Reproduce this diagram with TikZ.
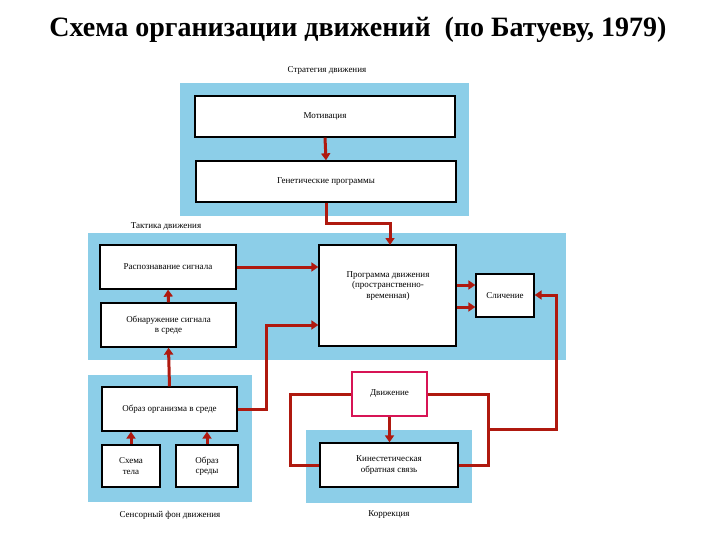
\documentclass[tikz,border=0pt]{standalone}
\usepackage{fontspec}
\setmainfont{Liberation Serif}
\usetikzlibrary{arrows.meta}
\definecolor{pan}{RGB}{140,206,232}
\definecolor{ln}{RGB}{175,25,15}
\definecolor{pk}{RGB}{215,20,85}
\tikzset{
 panel/.style={fill=pan,draw=none},
 bx/.style={draw=black,line width=1.3pt,fill=white,align=center,inner sep=0pt},
 lab/.style={font=\fontsize{9}{10.5}\selectfont},
 con/.style={draw=ln,line width=3pt},
 arr/.style={con,-{Triangle[length=7pt,width=9pt]}},
}
\newcommand{\bxat}[6]{\node[bx,#6,minimum width=#3pt-#1pt,minimum height=#4pt-#2pt] (#5) at ({(#1+#3)/2},{(#2+#4)/2}) {};}
\begin{document}
\begin{tikzpicture}[x=1pt,y=-1pt]
\useasboundingbox[fill=white] (0,0) rectangle (720,540);
\node[font=\bfseries\fontsize{28}{32}\selectfont] (title) at (358,30) {Схема организации движений\ \ (по Батуеву, 1979)};
% panels
\fill[panel] (180,83) rectangle (469,216);
\fill[panel] (88,233) rectangle (566,360);
\fill[panel] (88,375) rectangle (252,502);
\fill[panel] (306,430) rectangle (472,503);
\node[lab] (l1) at (327,70) {Стратегия движения};
\node[lab] (l2) at (166,226) {Тактика движения};
\node[lab] (l3) at (170,515) {Сенсорный фон движения};
\node[lab] (l4) at (389,515) {Коррекция};
% boxes
\bxat{195}{96}{455}{137}{mot}{}
\node[lab] at (mot) {Мотивация};
\bxat{196}{161}{456}{202}{gen}{}
\node[lab] at (gen) {Генетические программы};
\bxat{100}{245}{236}{289}{rasp}{}
\node[lab] at (rasp) {Распознавание сигнала};
\bxat{319}{245}{456}{346}{prog}{}
\node[lab,align=center] at (388,286) {Программа движения\\(пространственно-\\временная)};
\bxat{476}{274}{534}{317}{sl}{}
\node[lab] at (sl) {Сличение};
\bxat{101}{303}{236}{347}{obn}{}
\node[lab,align=center] at (obn) {Обнаружение сигнала\\в среде};
\bxat{102}{387}{237}{431}{obr}{}
\node[lab] at (obr) {Образ организма в среде};
\bxat{102}{445}{160}{487}{sch}{}
\node[lab,align=center] at (sch) {Схема\\тела};
\bxat{176}{445}{238}{487}{sred}{}
\node[lab,align=center] at (sred) {Образ\\среды};
\bxat{352}{372}{427}{416}{dv}{draw=pk,line width=2.5pt}
\node[lab] at (dv) {Движение};
\bxat{320}{443}{458}{487}{kin}{}
\node[lab,align=center] at (kin) {Кинестетическая\\обратная связь};
% connectors
\draw[arr] (mot.south) -- (gen.north);
\draw[arr] (gen.south) |- (390,224) -- (390,245);
\draw[arr] (rasp.east) -- (prog.west |- rasp.east);
\draw[arr] (prog.east |- 0,285) -- (sl.west |- 0,285);
\draw[arr] (prog.east |- 0,307) -- (sl.west |- 0,307);
\draw[arr] (obn.north) -- (rasp.south);
\draw[arr] (obr.north) -- (obn.south);
\draw[arr] (sch.north) -- (sch.north |- obr.south);
\draw[arr] (sred.north) -- (sred.north |- obr.south);
\draw[arr] (obr.east) -- (266,409) -- (266,325) -- (prog.west |- 0,325);
\draw[arr] (dv.south) -- (dv.south |- kin.north);
\draw[con] (dv.west) -- (290,394) -- (290,465) -- (kin.west);
\draw[con] (dv.east) -- (488,394) -- (488,465) -- (kin.east);
\draw[arr] (488,429) -- (556,429) -- (556,295) -- (sl.east |- 0,295);
\end{tikzpicture}
\end{document}
